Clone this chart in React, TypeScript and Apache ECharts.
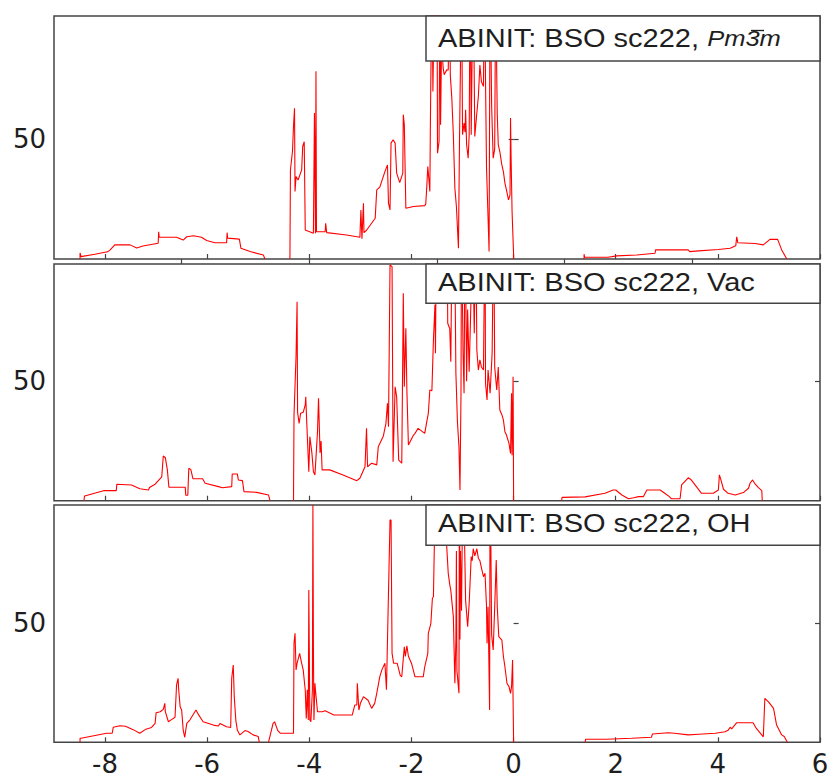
import React, { useEffect, useRef } from 'react';
import * as echarts from 'echarts';

// ---- axis / tick values ----
const X_MIN = -9;
const X_MAX = 6;
const xTickValues = [-8, -6, -4, -2, 0, 2, 4, 6];
const topTickValues = [-6.5, -4, -1.5, 1, 3.5];
const yTickValues = [50];
const yMaxes = [101.5, 99.1, 99.3];

// ---- panel titles ----
const titleBase = 'ABINIT: BSO sc222, ';
const titleSuffixes = ['Pm3m', 'Vac', 'OH'];

// ---- DOS curves, [energy, value]; null = gap ----
const dosPm3m: (number | null)[][] = [
  [-8.49, 0], [-8.49, 2.5], [-8.47, 1], [-8.2, 2], [-7.95, 3], [-7.9, 3.8], [-7.81, 5.9], [-7.51, 5.9],
  [-7.38, 4.6], [-7.26, 5.4], [-6.96, 6.6], [-6.95, 11.4], [-6.94, 9.1], [-6.6, 9.1], [-6.47, 7.9],
  [-6.4, 9.3], [-6.27, 9.7], [-6.11, 9.1], [-6.01, 7.7], [-5.85, 6.8], [-5.62, 6.8], [-5.61, 11],
  [-5.6, 8.7], [-5.37, 8.3], [-5.34, 4.5], [-5.16, 3.1], [-4.9, 1.7], [-4.87, 0],
  [-4.6, null],
  [-4.38, 0], [-4.37, 37.2], [-4.33, 45], [-4.31, 55.4], [-4.29, 63], [-4.28, 28.2], [-4.26, 34.4],
  [-4.22, 33], [-4.15, 37.2], [-4.13, 47], [-4.1, 49], [-4.08, 12.1], [-3.92, 10.8], [-3.9, 61],
  [-3.88, 10.8], [-3.87, 78.4], [-3.86, 11.4], [-3.69, 11.4], [-3.68, 14.9], [-3.66, 11], [-3.27, 10],
  [-3.01, 9.1], [-2.99, 20.5], [-2.97, 8.5], [-2.94, 23.3], [-2.93, 11], [-2.88, 12], [-2.71, 17],
  [-2.68, 28.9], [-2.62, 30], [-2.52, 36.5], [-2.47, 39.3], [-2.45, 23.3], [-2.42, 20.5], [-2.4, 48.4],
  [-2.36, 49.8], [-2.32, 48.4], [-2.29, 35.9], [-2.23, 31.9], [-2.17, 35.9], [-2.16, 60.3], [-2.14, 56.1],
  [-2.11, 21.2], [-1.96, 21.9], [-1.74, 22.3], [-1.72, 23], [-1.7, 30.3], [-1.68, 38.6], [-1.66, 33.5],
  [-1.64, 28.2], [-1.63, 54.7], [-1.6, 120], [-1.58, 70], [-1.55, 115], [-1.52, 85], [-1.5, 120],
  [-1.49, 44.2], [-1.46, 49], [-1.44, 120], [-1.43, 56.1], [-1.41, 90], [-1.38, 80], [-1.36, 77],
  [-1.31, 79], [-1.28, 79], [-1.25, 120], [-1.24, 77], [-1.21, 67.2], [-1.18, 51.9], [-1.15, 29.6],
  [-1.12, 21.9], [-1.08, 4.5], [-1.06, 47.7], [-1.04, 82.6], [-1.02, 120], [-1.0, 51.9], [-0.97, 56.8],
  [-0.95, 53], [-0.94, 62.3], [-0.92, 47.7], [-0.89, 42.1], [-0.87, 51.9], [-0.85, 120], [-0.83, 51.9],
  [-0.81, 90], [-0.79, 120], [-0.76, 51.2], [-0.72, 61], [-0.69, 68], [-0.66, 81], [-0.63, 74],
  [-0.59, 72.1], [-0.57, 120], [-0.55, 75], [-0.53, 37.9], [-0.5, 17], [-0.48, 3.1], [-0.46, 120],
  [-0.43, 64], [-0.4, 42.1], [-0.37, 46], [-0.35, 120], [-0.33, 77], [-0.32, 60.3], [-0.3, 47.7],
  [-0.27, 44.9], [-0.23, 39.3], [-0.2, 36.5], [-0.17, 31.7], [-0.14, 28.9], [-0.1, 24.7], [-0.07, 26.8],
  [-0.06, 58.9], [-0.05, 43.5], [-0.03, 19.8], [0.0, 1.7], [0.0, 0],
  [0.7, null],
  [1.38, 0], [1.38, 2], [1.39, 0.7], [1.85, 0.7], [2.02, 1.3], [2.41, 1.7], [2.77, 2.4], [2.78, 3.8],
  [3.42, 3.8], [3.45, 3.1], [3.62, 3.4], [4.01, 4.0], [4.24, 4.5], [4.35, 5.5], [4.37, 9.3], [4.39, 6.8],
  [4.73, 6.5], [4.89, 5.9], [5.02, 8.2], [5.17, 8.2], [5.25, 3.8], [5.35, 0],
];

const dosVac: (number | null)[][] = [
  [-8.41, 0], [-8.41, 1], [-8.4, 2], [-8.03, 4.2], [-7.78, 4.2], [-7.77, 6.9], [-7.48, 6.6], [-7.32, 5],
  [-7.15, 4.5], [-7.13, 5.5], [-7.02, 6.9], [-6.89, 10], [-6.86, 18.7], [-6.82, 18], [-6.78, 12.9],
  [-6.75, 5.6], [-6.43, 5.6], [-6.42, 2.3], [-6.38, 2.3], [-6.36, 13.6], [-6.32, 13], [-6.28, 9.2],
  [-6.09, 9.2], [-6.04, 7.3], [-5.78, 5.9], [-5.7, 5.4], [-5.52, 5.9], [-5.51, 11.2], [-5.41, 11.2],
  [-5.39, 8.7], [-5.31, 8.4], [-5.28, 3.8], [-5.03, 3.5], [-4.8, 2.4], [-4.77, 0],
  [-4.5, null],
  [-4.31, 0], [-4.3, 35.9], [-4.26, 60.6], [-4.24, 83.3], [-4.23, 37], [-4.2, 32.4], [-4.17, 36.6],
  [-4.12, 37], [-4.08, 40.1], [-4.07, 43.5], [-4.05, 32.4], [-4.01, 12.1], [-3.99, 26.8], [-3.95, 20],
  [-3.92, 12.1], [-3.89, 10.8], [-3.84, 28.9], [-3.82, 42.9], [-3.79, 20], [-3.77, 25], [-3.75, 12.9],
  [-3.6, 12.9], [-3.34, 10.8], [-3.07, 8.4], [-3.01, 9.4], [-2.91, 14.2], [-2.88, 30.3], [-2.86, 14.2],
  [-2.78, 15.7], [-2.68, 15], [-2.65, 22.6], [-2.55, 27.1], [-2.5, 32.4], [-2.47, 40.8], [-2.45, 31],
  [-2.42, 98.7], [-2.38, 98], [-2.36, 16.3], [-2.32, 47.7], [-2.29, 43.5], [-2.25, 17], [-2.19, 15.7],
  [-2.16, 86.9], [-2.14, 47.7], [-2.11, 72.2], [-2.09, 46.4], [-2.06, 23.3], [-1.96, 27.5], [-1.93, 28.2],
  [-1.87, 30.3], [-1.74, 28.2], [-1.7, 33.1], [-1.67, 36.6], [-1.64, 46.4], [-1.6, 46], [-1.57, 67.3],
  [-1.54, 82], [-1.53, 61.7], [-1.51, 120], [-1.48, 120], [-1.4, 120], [-1.3, 110], [-1.29, 74.3],
  [-1.25, 72], [-1.23, 58.2], [-1.2, 120], [-1.15, 100], [-1.13, 53.4], [-1.1, 33.1], [-1.07, 22.6],
  [-1.05, 4.5], [-1.03, 45], [-1.02, 120], [-0.99, 62], [-0.97, 45], [-0.95, 120], [-0.92, 50],
  [-0.9, 80], [-0.87, 54], [-0.83, 88], [-0.81, 120], [-0.77, 70.1], [-0.74, 120], [-0.72, 63.1],
  [-0.69, 54.7], [-0.66, 59], [-0.63, 56], [-0.59, 54.7], [-0.56, 120], [-0.55, 49.2], [-0.52, 42.2],
  [-0.5, 54.7], [-0.46, 45], [-0.42, 62], [-0.39, 120], [-0.37, 56], [-0.33, 46.4], [-0.3, 56],
  [-0.27, 38], [-0.23, 36], [-0.2, 33.8], [-0.17, 28.9], [-0.14, 27.5], [-0.09, 24], [-0.06, 19.8],
  [-0.04, 45], [-0.03, 19], [-0.01, 51.9], [0.0, 0],
  [0.5, null],
  [0.94, 0], [0.95, 1.4], [1.4, 1.6], [1.79, 3.1], [1.95, 4.5], [2.0, 4.5], [2.12, 2.4], [2.25, 0.8],
  [2.35, 1.2], [2.45, 1.7], [2.54, 1.7], [2.61, 4.5], [2.87, 4.5], [2.96, 3.1], [3.05, 1.7], [3.09, 0.8],
  [3.26, 0.8], [3.29, 6.6], [3.42, 9.6], [3.47, 8.9], [3.58, 5.9], [3.68, 3.1], [3.91, 3.1], [4.01, 4.5],
  [4.03, 10.8], [4.06, 8.7], [4.11, 4.8], [4.2, 3.1], [4.34, 2.4], [4.5, 3.4], [4.6, 5.2], [4.63, 7.3],
  [4.68, 8.7], [4.72, 7.3], [4.79, 5.6], [4.86, 4.2], [4.87, 0],
];

const dosOH: (number | null)[][] = [
  [-8.49, 0], [-8.49, 1.7], [-8.47, 1.7], [-7.97, 3.8], [-7.86, 3.8], [-7.84, 6.3], [-7.71, 6.9],
  [-7.6, 6.7], [-7.45, 5.3], [-7.32, 3.8], [-7.2, 5.5], [-7.09, 6.2], [-7.02, 7.9], [-7.0, 12.4],
  [-6.92, 12.8], [-6.86, 13.8], [-6.83, 16.3], [-6.82, 12.8], [-6.76, 8.6], [-6.7, 9.5], [-6.63, 10.5],
  [-6.6, 24], [-6.57, 26.8], [-6.56, 22.5], [-6.53, 14.9], [-6.5, 13.5], [-6.47, 5.1], [-6.44, 2.1],
  [-6.4, 7.9], [-6.34, 9.3], [-6.22, 13.5], [-6.18, 11.9], [-6.08, 8.6], [-5.88, 7.2], [-5.78, 6.8],
  [-5.75, 7.9], [-5.62, 6.5], [-5.54, 6.2], [-5.52, 26.8], [-5.49, 32.3], [-5.47, 19.1], [-5.44, 9.3],
  [-5.41, 5.1], [-5.36, 3.1], [-5.26, 4.9], [-5.2, 4.5], [-5.1, 3.1], [-5.0, 2.4], [-4.98, 0],
  [-4.9, null],
  [-4.8, 0], [-4.71, 7.9], [-4.68, 8.6], [-4.62, 5], [-4.57, 3.8], [-4.31, 3.8], [-4.3, 41.4],
  [-4.28, 45.6], [-4.26, 30.3], [-4.24, 33], [-4.19, 37.2], [-4.15, 33], [-4.12, 30.3], [-4.08, 21.9],
  [-4.06, 10], [-4.04, 22], [-4.02, 9.3], [-4.01, 63.7], [-3.99, 9.3], [-3.97, 8.6], [-3.94, 21.9],
  [-3.93, 99.3], [-3.92, 39.5], [-3.91, 9.3], [-3.89, 24.7], [-3.88, 21.9], [-3.84, 12.8], [-3.75, 12.8],
  [-3.69, 13.2], [-3.52, 11.4], [-3.16, 11.4], [-3.11, 15.6], [-3.07, 15.6], [-3.06, 24.7], [-3.03, 13.5],
  [-3.0, 16.3], [-2.94, 19.1], [-2.85, 17.6], [-2.78, 14.2], [-2.72, 16.3], [-2.68, 20.5], [-2.62, 27.5],
  [-2.58, 30.3], [-2.52, 33.1], [-2.49, 22], [-2.42, 93], [-2.4, 93], [-2.38, 37.2], [-2.35, 33.1],
  [-2.28, 33.1], [-2.22, 28], [-2.19, 27.4], [-2.14, 40], [-2.12, 35.9], [-2.09, 40.4], [-2.06, 36],
  [-2.0, 33.1], [-1.93, 27.4], [-1.77, 27.4], [-1.74, 31.6], [-1.68, 37.2], [-1.67, 45.6], [-1.62, 49.8],
  [-1.59, 60.3], [-1.57, 60.9], [-1.55, 84.6], [-1.53, 120], [-1.4, 120], [-1.32, 110], [-1.31, 82],
  [-1.28, 70.7], [-1.25, 66], [-1.23, 63.7], [-1.18, 52.6], [-1.15, 24.7], [-1.13, 43], [-1.12, 80],
  [-1.11, 30], [-1.07, 20.5], [-1.06, 120], [-1.05, 43], [-1.04, 80], [-1.02, 55], [-0.99, 120],
  [-0.94, 59.5], [-0.93, 56.7], [-0.9, 48.4], [-0.87, 58.2], [-0.83, 77.7], [-0.81, 76], [-0.79, 81],
  [-0.76, 78], [-0.72, 81], [-0.69, 77], [-0.66, 76], [-0.63, 73], [-0.59, 69.3], [-0.56, 70.7],
  [-0.53, 56.7], [-0.52, 41.4], [-0.5, 56.7], [-0.47, 13.5], [-0.46, 120], [-0.43, 45], [-0.4, 38.6],
  [-0.37, 56.7], [-0.34, 76.3], [-0.32, 56.7], [-0.29, 44.2], [-0.23, 42.8], [-0.2, 36], [-0.17, 31.6],
  [-0.13, 24.7], [-0.09, 23.3], [-0.06, 20.5], [-0.04, 23.3], [-0.02, 34.4], [0.0, 0],
  [0.7, null],
  [1.4, 0], [1.41, 1.3], [1.82, 1.3], [2.31, 1.7], [2.7, 2.1], [2.72, 3.5], [3.03, 4.0], [3.15, 3.8],
  [3.42, 3.1], [3.62, 3.4], [3.95, 3.8], [4.14, 4.4], [4.2, 5.0], [4.24, 6.3], [4.27, 5.6], [4.37, 8.2],
  [4.69, 8.2], [4.75, 5.9], [4.89, 2.3], [4.92, 18.4], [5.0, 16.7], [5.09, 14.2], [5.15, 7.2],
  [5.25, 3.1], [5.3, 2.4], [5.36, 0],
];

const panelData = [dosPm3m, dosVac, dosOH];

// ---- layout (pixels) ----
const GRID_LEFT = 54;
const GRID_WIDTH = 766;
const panelTops = [16, 264, 505];
const panelHeights = [243, 236.7, 237.3];
const boxHeights = [45, 39.3, 40.3];
const BOX_LEFT = 426;
const FRAME = '#444444';
const TEXT = '#1e1e1e';
const TEXT_SCALE = 1.16;
const TOP_Z = 100;

export default function App() {
  const ref = useRef<HTMLDivElement>(null);

  useEffect(() => {
    if (!ref.current) return;
    const chart = echarts.init(ref.current, undefined, { renderer: 'svg' });

    const grid = panelTops.map((top, i) => ({
      left: GRID_LEFT,
      width: GRID_WIDTH,
      top,
      height: panelHeights[i],
      show: true,
      borderColor: FRAME,
      borderWidth: 1.5,
      backgroundColor: 'transparent',
    }));

    const xAxis: any[] = [0, 1, 2].map((i) => ({
      type: 'value',
      gridIndex: i,
      position: 'bottom',
      min: X_MIN,
      max: X_MAX,
      axisLine: { show: false },
      splitLine: { show: false },
      axisTick: {
        show: true,
        inside: true,
        length: 5,
        customValues: xTickValues,
        lineStyle: { color: FRAME, width: 1.2 },
      },
      axisLabel: {
        show: i === 2,
        customValues: xTickValues,
        margin: 12,
        lineHeight: 20,
        fontFamily: 'DejaVu Sans',
        fontSize: 26,
        color: TEXT,
        formatter: (v: number) => String(v),
      },
    }));
    xAxis.push({
      type: 'value',
      gridIndex: 0,
      position: 'top',
      min: X_MIN,
      max: X_MAX,
      axisLine: { show: false },
      splitLine: { show: false },
      axisTick: {
        show: true,
        inside: true,
        length: 5,
        customValues: topTickValues,
        lineStyle: { color: FRAME, width: 1.2 },
      },
      axisLabel: { show: false },
    });

    const yAxis: any[] = [];
    [0, 1, 2].forEach((i) => {
      yAxis.push({
        type: 'value',
        gridIndex: i,
        position: 'left',
        min: 0,
        max: yMaxes[i],
        axisLine: { show: false },
        splitLine: { show: false },
        axisTick: {
          show: true,
          inside: true,
          length: 5,
          customValues: yTickValues,
          lineStyle: { color: FRAME, width: 1.2 },
        },
        axisLabel: {
          show: true,
          customValues: yTickValues,
          margin: 8,
          fontFamily: 'DejaVu Sans',
          fontSize: 26,
          color: TEXT,
        },
      });
    });
    [0, 1, 2].forEach((i) => {
      yAxis.push({
        type: 'value',
        gridIndex: i,
        position: 'right',
        min: 0,
        max: yMaxes[i],
        axisLine: { show: false },
        splitLine: { show: false },
        axisTick: {
          show: true,
          inside: true,
          length: 5,
          customValues: yTickValues,
          lineStyle: { color: FRAME, width: 1.2 },
        },
        axisLabel: { show: false },
      });
    });

    const series = panelData.map((d, i) => ({
      type: 'line',
      xAxisIndex: i,
      yAxisIndex: i,
      data: d,
      showSymbol: false,
      symbol: 'none',
      connectNulls: false,
      clip: true,
      lineStyle: { color: '#ff0000', width: 1.1 },
      z: 2,
    }));

    const graphic: any[] = [];
    panelTops.forEach((top, i) => {
      const h = boxHeights[i];
      graphic.push({
        type: 'rect',
        z: TOP_Z,
        shape: { x: BOX_LEFT, y: top, width: GRID_LEFT + GRID_WIDTH - BOX_LEFT, height: h },
        style: { fill: '#ffffff', stroke: FRAME, lineWidth: 1.5 },
      });
      const textY = i === 0 ? top + 22.6 : top + 18;
      const text = i === 0
        ? `${titleBase}{i|${titleSuffixes[0]}}`
        : `${titleBase}${titleSuffixes[i]}`;
      graphic.push({
        type: 'text',
        z: TOP_Z + 1,
        x: 438,
        y: textY,
        scaleX: TEXT_SCALE,
        scaleY: 1,
        style: {
          text,
          fontFamily: 'Liberation Sans',
          fontSize: 25,
          fill: TEXT,
          textAlign: 'left',
          textVerticalAlign: 'middle',
          align: 'left',
          verticalAlign: 'middle',
          rich: {
            i: {
              fontFamily: 'Liberation Sans',
              fontStyle: 'italic',
              fontSize: 22,
              fill: TEXT,
              color: TEXT,
            },
          },
        },
      });
      if (i === 0) {
        graphic.push({
          type: 'line',
          z: TOP_Z + 1,
          shape: { x1: 751, y1: 30.5, x2: 764, y2: 30.5 },
          style: { stroke: TEXT, lineWidth: 1.3 },
        });
      }
    });

    chart.setOption({
      animation: false,
      backgroundColor: '#ffffff',
      grid,
      xAxis,
      yAxis,
      series,
      graphic,
    });

    return () => chart.dispose();
  }, []);

  return (
    <div
      ref={ref}
      style={{ position: 'absolute', left: 0, top: 0, width: 835, height: 778 }}
    />
  );
}
